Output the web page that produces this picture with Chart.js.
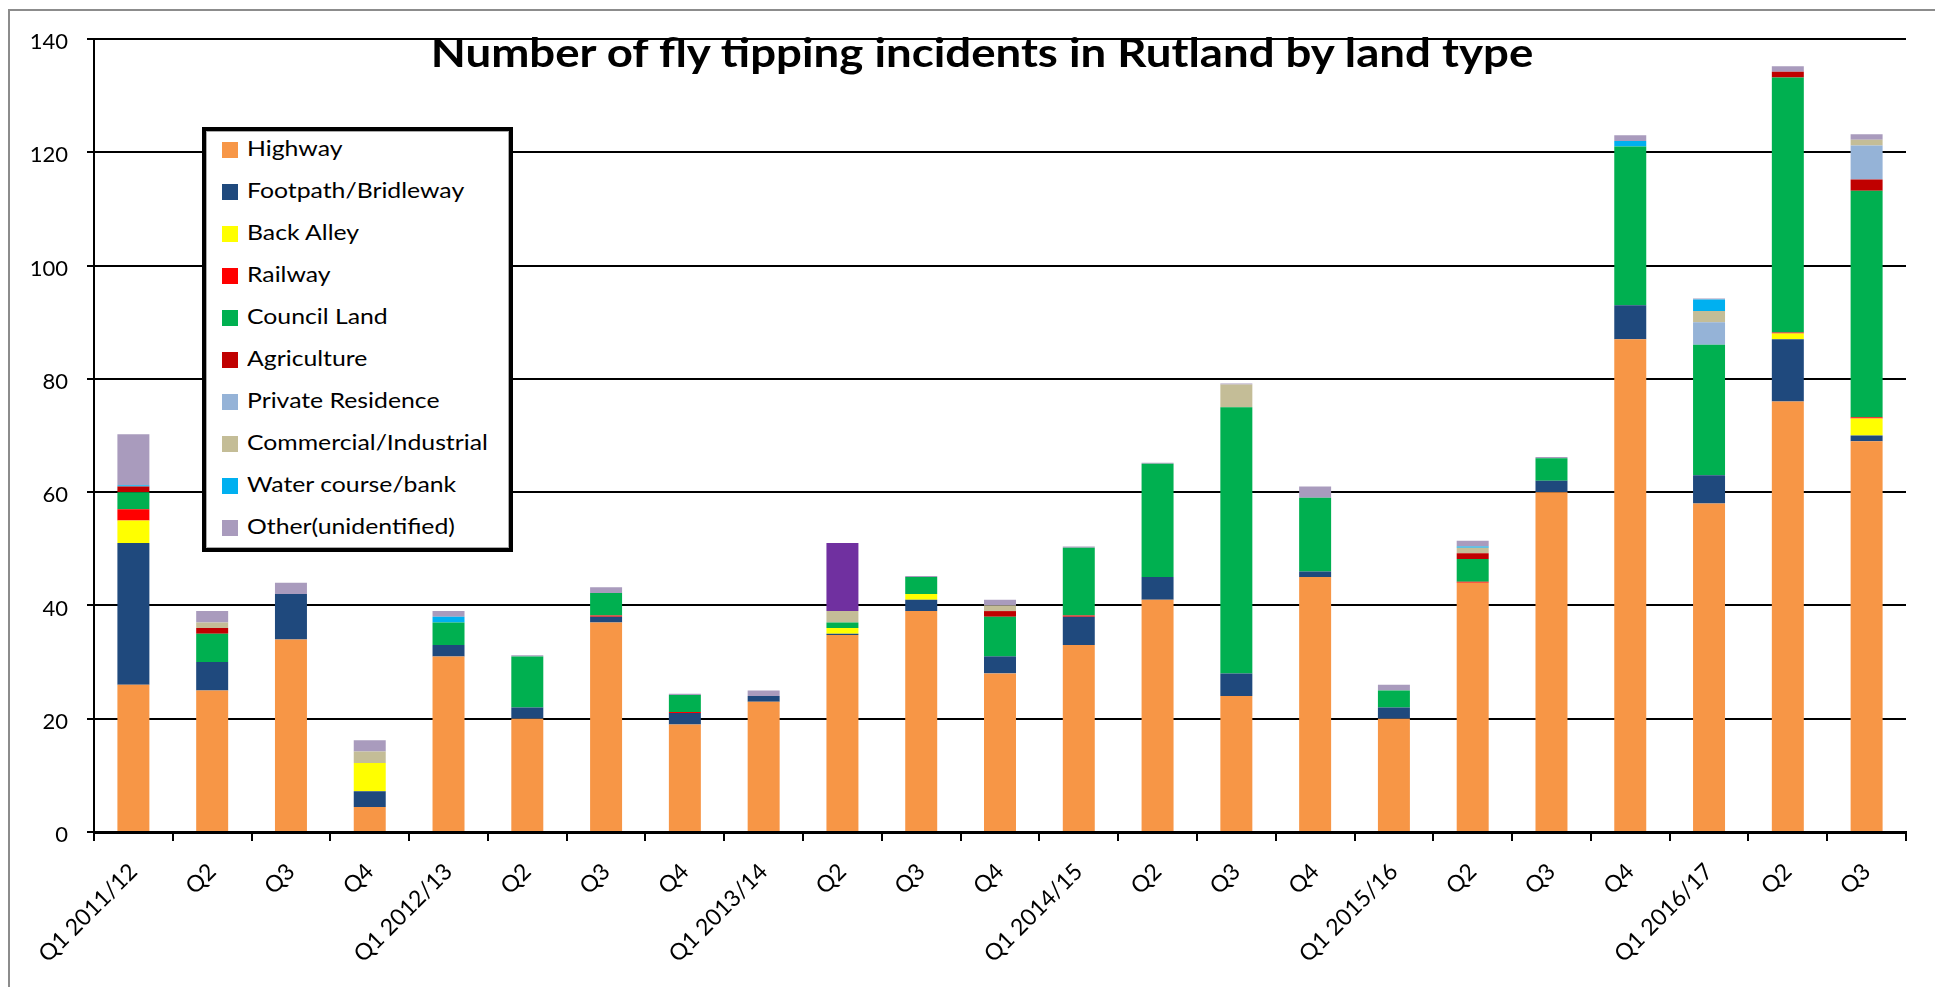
<!DOCTYPE html>
<html>
<head>
<meta charset="utf-8">
<title>Number of fly tipping incidents in Rutland by land type</title>
<style>
  body { margin: 0; background: #fff; overflow: hidden; font-family: Lato, "Open Sans", sans-serif; }
  #wrap { position: relative; width: 1935px; height: 987px; overflow: hidden; }
  #frame { position: absolute; left: 8px; top: 9px; width: 2000px; height: 1100px; border: 2px solid #8c8c8c; }
  #chart { position: absolute; left: 0; top: 0; }
  #title {
    position: absolute; left: 982px; top: 28px; transform: translateX(-50%) scaleX(1.14);
    font: bold 40px/1.2 Lato, sans-serif; white-space: nowrap; color: #000;
  }
  #legend {
    position: absolute; left: 202px; top: 127px; width: 311px; height: 425px;
    box-sizing: border-box; border: 4px solid #000; background: #fff;
    box-shadow: inset 0 0 0 1px #aaa;
  }
  .item { position: absolute; left: 16px; height: 24px; }
  .sw { position: absolute; left: 0; top: 0; width: 16px; height: 16px; }
  .lbl {
    position: absolute; left: 25px; top: -7px; font: 21px/26px Lato, sans-serif;
    white-space: nowrap; color: #000; transform: scaleX(1.18); transform-origin: left center;
  }
</style>
</head>
<body>
<div id="wrap">
  <div id="frame"></div>
  <canvas id="chart" width="1935" height="987"></canvas>
  <div id="title">Number of fly tipping incidents in Rutland by land type</div>
  <div id="legend"></div>
</div>
<script src="https://cdn.jsdelivr.net/npm/chart.js"></script>
<script>
  const quarters = ["Q1 2011/12", "Q2", "Q3", "Q4", "Q1 2012/13", "Q2", "Q3", "Q4",
    "Q1 2013/14", "Q2", "Q3", "Q4", "Q1 2014/15", "Q2", "Q3", "Q4",
    "Q1 2015/16", "Q2", "Q3", "Q4", "Q1 2016/17", "Q2", "Q3"];

  const highway     = [26, 25, 34, 4.4, 31, 20, 37, 19, 23, 34.8, 39, 28, 33, 41, 24, 45, 20, 44, 60, 87, 58, 76, 69];
  const footpath    = [25, 5, 8, 2.8, 2, 2, 1, 2, 1, 0.2, 2, 3, 5, 4, 4, 1, 2, 0, 2, 6, 5, 11, 1];
  const backAlley   = [4, 0, 0, 5, 0, 0, 0, 0, 0, 1, 1, 0, 0, 0, 0, 0, 0, 0, 0, 0, 0, 1, 3];
  const railway     = [2, 0, 0, 0, 0, 0, 0.2, 0.2, 0, 0, 0, 0, 0.2, 0, 0, 0, 0, 0.2, 0, 0, 0, 0.2, 0.2];
  const councilLand = [3, 5, 0, 0, 4, 9, 4, 3, 0, 1, 3, 7, 12, 20, 47, 13, 3, 4, 4, 28, 23, 45, 40];
  const agriculture = [1, 1, 0, 0, 0, 0, 0, 0, 0, 0, 0, 1, 0, 0, 0, 0, 0, 1, 0, 0, 0, 1, 2];
  const privateRes  = [0, 0, 0, 0, 0, 0, 0, 0, 0, 0, 0, 0, 0, 0, 0, 0, 0, 0, 0, 0, 4, 0, 6];
  const commercial  = [0, 1, 0, 2, 0, 0, 0, 0, 0, 2, 0, 1, 0, 0, 4, 0, 0, 1, 0, 0, 2, 0, 1];
  const waterCourse = [0.2, 0, 0, 0, 1, 0, 0, 0, 0, 0, 0, 0, 0, 0, 0, 0, 0, 0.2, 0, 1, 2, 0, 0];
  const other       = [9, 2, 2, 2, 1, 0.2, 1, 0.2, 1, 0, 0.2, 1, 0.2, 0.2, 0.2, 2, 1, 1, 0.2, 1, 0.2, 1, 1];
  const unlabelled  = [0, 0, 0, 0, 0, 0, 0, 0, 0, 12, 0, 0, 0, 0, 0, 0, 0, 0, 0, 0, 0, 0, 0];

  const yTicks = [0, 20, 40, 60, 80, 100, 120, 140];

  const series = [
    { name: "Highway", data: highway, color: "#F79646" },
    { name: "Footpath/Bridleway", data: footpath, color: "#1F497D" },
    { name: "Back Alley", data: backAlley, color: "#FFFF00" },
    { name: "Railway", data: railway, color: "#FF0000" },
    { name: "Council Land", data: councilLand, color: "#00B050" },
    { name: "Agriculture", data: agriculture, color: "#C00000" },
    { name: "Private Residence", data: privateRes, color: "#95B3D7" },
    { name: "Commercial/Industrial", data: commercial, color: "#C4BD97" },
    { name: "Water course/bank", data: waterCourse, color: "#00B0F0" },
    { name: "Other(unidentified)", data: other, color: "#A99BBD" }
  ];

  const datasets = series.map(s => ({
    label: s.name, data: s.data, backgroundColor: s.color,
    barPercentage: 0.406, categoryPercentage: 1
  }));
  // purple block in Q2 2013/14 has no legend entry
  datasets.push({ label: "", data: unlabelled, backgroundColor: "#7030A0", barPercentage: 0.406, categoryPercentage: 1 });

  // legend box drawn in html
  const legend = document.getElementById("legend");
  series.forEach((s, i) => {
    const item = document.createElement("div");
    item.className = "item";
    item.style.top = (11 + i * 42) + "px";
    item.innerHTML = '<div class="sw" style="background:' + s.color + '"></div><div class="lbl"></div>';
    item.querySelector(".lbl").textContent = s.name;
    legend.appendChild(item);
  });

  new Chart(document.getElementById("chart"), {
    type: "bar",
    data: { labels: quarters, datasets: datasets },
    options: {
      responsive: false,
      animation: false,
      layout: { padding: { top: 39, right: 29, left: 0, bottom: 0 } },
      plugins: { legend: { display: false }, tooltip: { enabled: false } },
      scales: {
        x: {
          stacked: true,
          grid: { offset: true, drawOnChartArea: false, tickLength: 9, color: "#000", lineWidth: 2 },
          border: { color: "#000", width: 3 },
          ticks: { color: "#000", font: { family: "Lato", size: 23 }, minRotation: 45, maxRotation: 45, autoSkip: false, padding: 17 },
          afterFit: s => { s.height = 155; }
        },
        y: {
          stacked: true,
          min: 0, max: 140,
          afterBuildTicks: s => { s.ticks = yTicks.map(v => ({ value: v })); },
          grid: { color: "#000", lineWidth: 2, tickLength: 7 },
          border: { color: "#000", width: 2 },
          ticks: { color: "#000", font: { family: "Lato", size: 22 }, padding: 19, labelOffset: 3 },
          afterFit: s => { s.width = 94; }
        }
      }
    }
  });
</script>
</body>
</html>
